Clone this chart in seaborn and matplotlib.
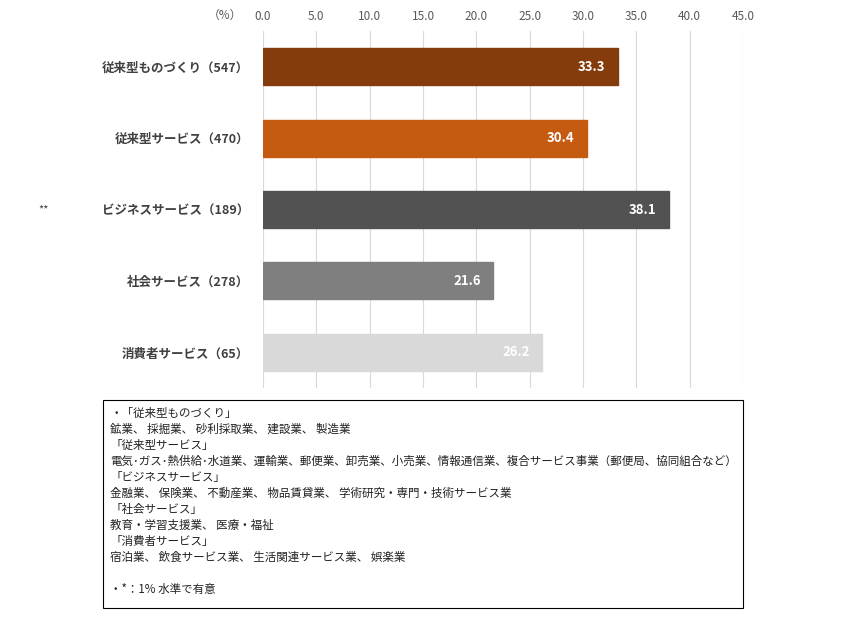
import matplotlib
matplotlib.use("Agg")
import matplotlib.pyplot as plt
import seaborn as sns
import pandas as pd
import numpy as np

# データ
categories = ["従来型ものづくり（547）", "従来型サービス（470）", "ビジネスサービス（189）",
              "社会サービス（278）", "消費者サービス（65）"]
values = [33.3, 30.4, 38.1, 21.6, 26.2]
bar_colors = ["#843C0C", "#C55A11", "#525252", "#7F7F7F", "#D9D9D9"]
x_ticks = [0, 5, 10, 15, 20, 25, 30, 35, 40, 45]
note_lines = [
    "・「従来型ものづくり」",
    "鉱業、 採掘業、 砂利採取業、 建設業、 製造業",
    "「従来型サービス」",
    "電気･ガス･熱供給･水道業、運輸業、郵便業、卸売業、小売業、情報通信業、複合サービス事業（郵便局、協同組合など）",
    "「ビジネスサービス」",
    "金融業、 保険業、 不動産業、 物品賃貸業、 学術研究・専門・技術サービス業",
    "「社会サービス」",
    "教育・学習支援業、 医療・福祉",
    "「消費者サービス」",
    "宿泊業、 飲食サービス業、 生活関連サービス業、 娯楽業",
    "",
    "・*：1% 水準で有意",
]

sns.set_theme(style="white")
plt.rcParams['font.family'] = ['Noto Sans CJK JP', 'DejaVu Sans']

df = pd.DataFrame({"cat": categories, "val": values})

fig = plt.figure(figsize=(8.46, 6.2), dpi=100)
ax = fig.add_axes([263/846, 1-388/620, 480/846, 357/620])

sns.barplot(data=df, x="val", y="cat", hue="cat", palette=bar_colors,
            saturation=1, width=0.52, legend=False, ax=ax, zorder=3)
for p in ax.patches:
    p.set_edgecolor(p.get_facecolor())

ax.set_xlim(0, 45)
ax.set_ylim(4.5, -0.5)
ax.set_xticks(x_ticks)
ax.set_xticklabels([f"{t:.1f}" for t in x_ticks], fontsize=8.5, color="#595959")
ax.xaxis.tick_top()
ax.tick_params(axis="x", length=0, pad=6)
ax.tick_params(axis="y", length=0, pad=10)
ax.set_xlabel("")
ax.set_ylabel("")
for lab in ax.get_yticklabels():
    lab.set_fontsize(9)
    lab.set_fontweight("bold")
    lab.set_color("#404040")
ax.grid(axis="x", color="#D9D9D9", linewidth=0.8, zorder=0)
ax.grid(axis="y", visible=False)
for s in ax.spines.values():
    s.set_visible(False)

for i, v in enumerate(values):
    ax.text(v - 1.2, i, f"{v:.1f}", ha="right", va="center", color="white",
            fontsize=9.5, fontweight="bold", zorder=4)

fig.text(225/846, 1-15/620, "（%）", ha="center", va="center", fontsize=8.5, color="#595959")
fig.text(44/846, 1-210/620, "**", ha="center", va="center", fontsize=8, color="#404040")

# 注記ボックス
box = plt.Rectangle((103/846, 1-608/620), 640/846, 208/620, transform=fig.transFigure,
                    fill=False, edgecolor="black", linewidth=0.8)
fig.add_artist(box)
y0 = 413
for k, line in enumerate(note_lines):
    fig.text(110/846, 1-(y0 + k*16)/620, line, ha="left", va="center",
             fontsize=8.3, color="#222222")

fig.savefig("out.png", dpi=100)
